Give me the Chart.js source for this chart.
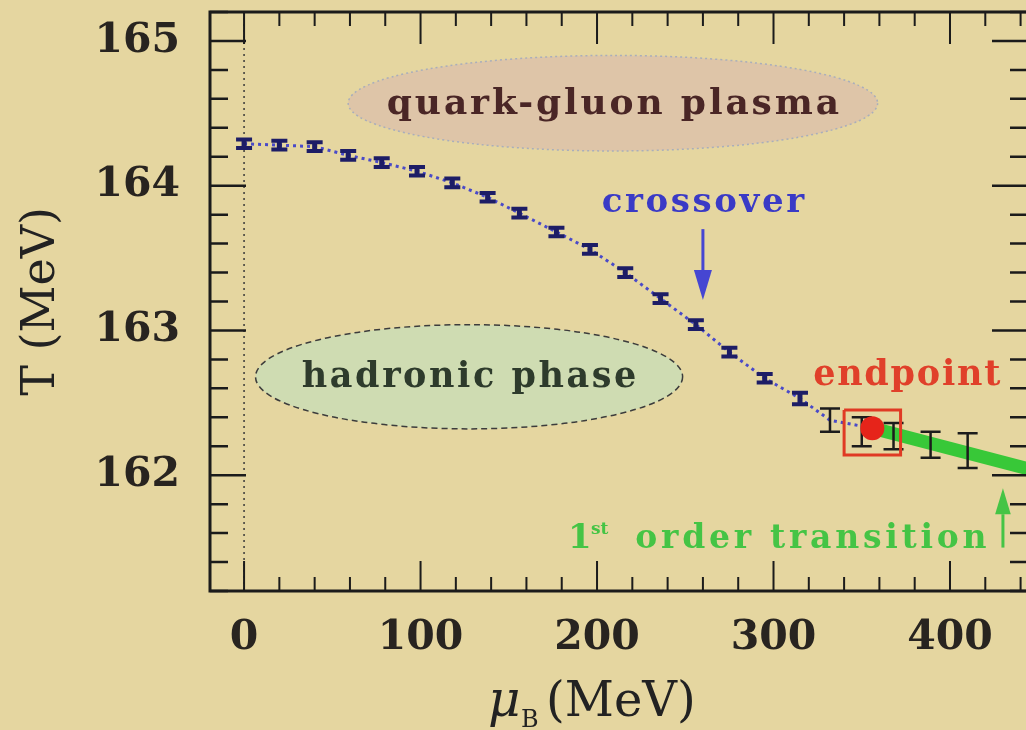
<!DOCTYPE html>
<html>
<head>
<meta charset="utf-8">
<script src="https://cdn.jsdelivr.net/npm/chart.js@4.4.0/dist/chart.umd.min.js"></script>
<style>
  html, body { margin: 0; padding: 0; background: #e5d6a0; overflow: hidden; }
  /* plot runs past the right edge of the window, as in the cropped picture */
  #wrap { width: 1040px; height: 730px; position: relative; }
</style>
</head>
<body>
<div id="wrap"><canvas id="phaseChart"></canvas></div>
<script>
// ===== values =====
const muCross = [0, 20, 40, 59, 78, 98, 118, 138, 156, 177, 196, 216, 236, 256, 275, 295, 315];
const tCross = [164.29, 164.28, 164.27, 164.21, 164.16, 164.10, 164.02, 163.92, 163.81, 163.68, 163.56, 163.40, 163.22, 163.04, 162.85, 162.67, 162.53];
const errCross = [0.03, 0.03, 0.03, 0.03, 0.03, 0.03, 0.03, 0.03, 0.03, 0.03, 0.03, 0.03, 0.03, 0.03, 0.03, 0.03, 0.04];

const muWide = [332, 350, 368, 389, 410];
const tWide = [162.38, 162.30, 162.27, 162.21, 162.17];
const errWide = [0.08, 0.10, 0.09, 0.09, 0.12];

const muEnd = [356];
const tEnd = [162.325];

const muBox = [340, 372, 372, 340, 340];
const tBox = [162.45, 162.45, 162.14, 162.14, 162.45];

const muFirst = [356, 480];
const tFirst = [162.325, 161.93];

const xTicks = [0, 100, 200, 300, 400];
const yTicks = [162, 163, 164, 165];

const SERIF = '"DejaVu Serif", "Liberation Serif", serif';

function pts(xs, ys) {
  return xs.map((x, i) => ({ x, y: ys[i] }));
}

// typewriter look: stretch a serif line to the width it has in the picture
function spacedText(ctx, text, cx, cy, target) {
  ctx.letterSpacing = '0px';
  const w = ctx.measureText(text).width;
  const sp = Math.max(0, (target - w) / text.length);
  ctx.letterSpacing = sp + 'px';
  ctx.fillText(text, cx + sp / 2, cy);
  ctx.letterSpacing = '0px';
}

// error bars drawn right after their own dataset
const errorBars = {
  id: 'errorBars',
  afterDatasetDraw(chart, args) {
    const ds = chart.data.datasets[args.index];
    if (!ds.errors) return;
    const { x, y } = chart.scales;
    const ctx = chart.ctx;
    const a = chart.chartArea;
    ctx.save();
    ctx.beginPath();
    ctx.rect(a.left, a.top, a.right - a.left, a.bottom - a.top);
    ctx.clip();
    ctx.strokeStyle = ds.errColor;
    ds.data.forEach((p, i) => {
      const px = x.getPixelForValue(p.x);
      const top = y.getPixelForValue(p.y + ds.errors[i]);
      const bot = y.getPixelForValue(p.y - ds.errors[i]);
      ctx.lineWidth = ds.stemWidth;
      ctx.beginPath();
      ctx.moveTo(px, top);
      ctx.lineTo(px, bot);
      ctx.stroke();
      ctx.lineWidth = ds.capWidth;
      ctx.beginPath();
      ctx.moveTo(px - ds.capHalf, top);
      ctx.lineTo(px + ds.capHalf, top);
      ctx.moveTo(px - ds.capHalf, bot);
      ctx.lineTo(px + ds.capHalf, bot);
      ctx.stroke();
    });
    ctx.restore();
  }
};

function ellipse(ctx, cx, cy, rx, ry, fill, stroke, dash, lw) {
  ctx.save();
  ctx.beginPath();
  ctx.ellipse(cx, cy, rx, ry, 0, 0, Math.PI * 2);
  ctx.fillStyle = fill;
  ctx.fill();
  ctx.setLineDash(dash);
  ctx.lineWidth = lw;
  ctx.strokeStyle = stroke;
  ctx.stroke();
  ctx.restore();
}

function arrow(ctx, x, y0, y1, color, lw, head) {
  const dir = y1 > y0 ? 1 : -1;
  ctx.save();
  ctx.strokeStyle = color;
  ctx.fillStyle = color;
  ctx.lineWidth = lw;
  ctx.beginPath();
  ctx.moveTo(x, y0);
  ctx.lineTo(x, y1 - dir * head);
  ctx.stroke();
  ctx.beginPath();
  ctx.moveTo(x - head * 0.3, y1 - dir * head);
  ctx.lineTo(x + head * 0.3, y1 - dir * head);
  ctx.lineTo(x, y1);
  ctx.closePath();
  ctx.fill();
  ctx.restore();
}

// phase regions behind the data
const regions = {
  id: 'regions',
  beforeDatasetsDraw(chart) {
    const { x, y } = chart.scales;
    const ctx = chart.ctx;
    const sx = v => x.getPixelForValue(v);
    const sy = v => y.getPixelForValue(v);

    // dotted line at mu = 0
    ctx.save();
    ctx.strokeStyle = '#3a3a3a';
    ctx.lineWidth = 1.5;
    ctx.setLineDash([2, 4]);
    ctx.beginPath();
    ctx.moveTo(sx(0), chart.chartArea.top);
    ctx.lineTo(sx(0), chart.chartArea.bottom);
    ctx.stroke();
    ctx.restore();

    const qx = sx(209), qy = sy(164.57);
    ellipse(ctx, qx, qy, sx(359) - qx, qy - sy(164.90), '#dec5a8', '#a9aebb', [2, 3], 1.5);
    const hx = sx(127.5), hy = sy(162.68);
    ellipse(ctx, hx, hy, sx(248.5) - hx, hy - sy(163.04), '#cfdcb2', '#3c3c3c', [6, 4], 1.5);

    ctx.save();
    ctx.textAlign = 'center';
    ctx.textBaseline = 'middle';
    ctx.font = 'bold 36px ' + SERIF;
    ctx.fillStyle = '#4a2626';
    spacedText(ctx, 'quark-gluon plasma', qx, qy + 1, 455);
    ctx.font = 'bold 35px ' + SERIF;
    ctx.fillStyle = '#2e3b2c';
    spacedText(ctx, 'hadronic phase', hx, hy + 1, 337);
    ctx.restore();
  }
};

// frame, inward ticks, labels on top
const frameAndNotes = {
  id: 'frameAndNotes',
  afterDraw(chart) {
    const { x, y } = chart.scales;
    const ctx = chart.ctx;
    const a = chart.chartArea;
    const sx = v => x.getPixelForValue(v);
    const sy = v => y.getPixelForValue(v);

    ctx.save();
    ctx.strokeStyle = '#1b1b1b';
    ctx.lineWidth = 2.5;
    // y ticks every 0.2, major on integers
    for (let k = Math.ceil(y.min * 5); k <= Math.floor(y.max * 5); k++) {
      const major = k % 5 === 0;
      const len = major ? 36 : 18;
      const py = sy(k / 5);
      ctx.beginPath();
      ctx.moveTo(a.left, py); ctx.lineTo(a.left + len, py);
      ctx.moveTo(a.right, py); ctx.lineTo(a.right - len, py);
      ctx.stroke();
    }
    // x ticks every 20, major on hundreds
    ctx.lineWidth = 2;
    for (let v = 0; v <= x.max; v += 20) {
      const major = v % 100 === 0;
      const px = sx(v);
      ctx.beginPath();
      ctx.moveTo(px, a.bottom); ctx.lineTo(px, a.bottom - (major ? 30 : 14));
      ctx.moveTo(px, a.top); ctx.lineTo(px, a.top + (major ? 32 : 14));
      ctx.stroke();
    }
    ctx.lineWidth = 3;
    ctx.strokeRect(a.left, a.top, a.right - a.left, a.bottom - a.top);
    ctx.restore();

    // x axis title with subscript
    ctx.save();
    ctx.fillStyle = '#222';
    ctx.textBaseline = 'alphabetic';
    ctx.textAlign = 'left';
    ctx.font = 'italic 50px ' + SERIF;
    const base = 716;
    ctx.fillText('\u03bc', 488, base);
    ctx.font = '24px ' + SERIF;
    ctx.fillText('B', 521, base + 11);
    ctx.font = '48px ' + SERIF;
    ctx.fillText('(MeV)', 546, base);
    ctx.restore();

    // annotations
    ctx.save();
    ctx.textBaseline = 'middle';
    ctx.textAlign = 'center';
    ctx.font = 'bold 34px ' + SERIF;
    ctx.fillStyle = '#3a3ac6';
    spacedText(ctx, 'crossover', sx(260), sy(163.88), 205);
    arrow(ctx, sx(260), sy(163.70), sy(163.21), '#4646d2', 3, 30);

    ctx.font = 'bold 35px ' + SERIF;
    ctx.fillStyle = '#e0402a';
    spacedText(ctx, 'endpoint', sx(375.5), sy(162.685), 189);

    ctx.fillStyle = '#45c445';
    ctx.textBaseline = 'alphabetic';
    const gx = sx(183.5), gy = sy(161.50);
    ctx.textAlign = 'left';
    ctx.font = 'bold 34px ' + SERIF;
    ctx.fillText('1', gx, gy);
    ctx.font = 'bold 17px ' + SERIF;
    ctx.fillText('st', gx + 23, gy - 14);
    ctx.font = 'bold 33px ' + SERIF;
    ctx.textAlign = 'center';
    spacedText(ctx, 'order transition', gx + 66 + 177, gy, 355);
    arrow(ctx, sx(430), sy(161.50), sy(161.91), '#45c445', 3, 26);
    ctx.restore();
  }
};

function noEdgePadding(s) {
  s.paddingTop = 0; s.paddingBottom = 0; s.paddingLeft = 0; s.paddingRight = 0;
}

const canvas = document.getElementById('phaseChart');
new Chart(canvas, {
  type: 'scatter',
  data: {
    // first dataset is drawn on top
    datasets: [
      {
        type: 'line',
        data: pts(muBox, tBox),
        borderColor: '#e03a24',
        borderWidth: 3,
        pointRadius: 0,
        fill: false,
      },
      {
        data: pts(muEnd, tEnd),
        pointRadius: 12,
        pointBackgroundColor: '#e6241a',
        pointBorderColor: '#e6241a',
        borderWidth: 0,
      },
      {
        data: pts(muCross, tCross),
        pointRadius: 0,
        errors: errCross,
        errColor: '#1d1d66',
        stemWidth: 5,
        capWidth: 4,
        capHalf: 8,
      },
      {
        data: pts(muWide, tWide),
        pointRadius: 0,
        errors: errWide,
        errColor: '#1c1c1c',
        stemWidth: 2.5,
        capWidth: 2.5,
        capHalf: 10,
      },
      {
        type: 'line',
        data: pts(muCross.concat(muWide.slice(0, 1), muEnd), tCross.concat(tWide.slice(0, 1), tEnd)),
        borderColor: '#4a4ac8',
        borderWidth: 3,
        borderDash: [3, 4],
        pointRadius: 0,
        fill: false,
        tension: 0,
      },
      {
        type: 'line',
        data: pts(muFirst, tFirst),
        borderColor: '#38c838',
        borderWidth: 13,
        pointRadius: 0,
        fill: false,
      },
    ],
  },
  options: {
    responsive: true,
    maintainAspectRatio: false,
    animation: false,
    layout: { padding: { top: 10, right: 0, left: 0, bottom: 0 } },
    plugins: {
      legend: { display: false },
      tooltip: { enabled: false },
    },
    scales: {
      x: {
        type: 'linear',
        min: -19.3,
        max: 444.2,
        afterFit: s => { s.height = 139; noEdgePadding(s); },
        afterBuildTicks: s => { s.ticks = xTicks.map(v => ({ value: v })); },
        grid: { display: false },
        border: { display: false },
        ticks: {
          autoSkip: false,
          maxRotation: 0,
          padding: 15,
          color: '#282420',
          font: { family: SERIF, size: 41, weight: 'bold' },
        },
      },
      y: {
        type: 'linear',
        min: 161.2,
        max: 165.2,
        afterFit: s => { s.width = 210; noEdgePadding(s); },
        afterBuildTicks: s => { s.ticks = yTicks.map(v => ({ value: v })); },
        grid: { display: false },
        border: { display: false },
        ticks: {
          autoSkip: false,
          padding: 22,
          color: '#282420',
          font: { family: SERIF, size: 41, weight: 'bold' },
        },
        title: {
          display: true,
          text: 'T (MeV)',
          color: '#222',
          font: { family: SERIF, size: 46, lineHeight: 1.2 },
          padding: { top: 14, bottom: 0 },
        },
      },
    },
  },
  plugins: [regions, errorBars, frameAndNotes],
});
</script>
</body>
</html>
